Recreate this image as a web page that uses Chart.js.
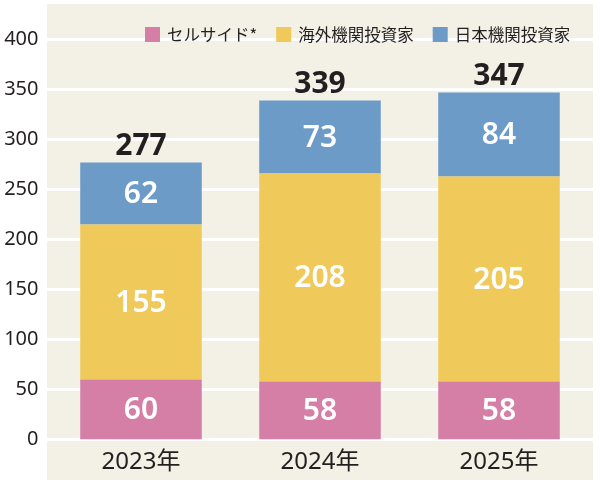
<!DOCTYPE html>
<html><head><meta charset="utf-8">
<script src="https://cdn.jsdelivr.net/npm/chart.js@4/dist/chart.umd.min.js"></script>
<style>html,body{margin:0;padding:0;background:#fff}</style>
</head><body>
<canvas id="c" width="600" height="486"></canvas>
<script>
const categories = ['2023年', '2024年', '2025年'];
const seriesNames = ['セルサイド*', '海外機関投資家', '日本機関投資家'];
const sellSide = [60, 58, 58];
const overseas = [155, 208, 205];
const domestic = [62, 73, 84];
const totals = [277, 339, 347];
const yTickValues = [0, 50, 100, 150, 200, 250, 300, 350, 400];

const colors = ['#d57fa6', '#efca5a', '#6c9bc7'];
const textColor = '#231f20';
const FONT = '"Noto Sans", "Noto Sans CJK JP", sans-serif';

const bgPlugin = {
  id: 'bg',
  beforeDraw(chart) {
    const ctx = chart.ctx;
    ctx.save();
    ctx.fillStyle = '#ffffff';
    ctx.fillRect(0, 0, chart.width, chart.height);
    ctx.fillStyle = '#f3f0e6';
    ctx.fillRect(47, 4, 546, 476);
    const y = chart.scales.y;
    ctx.strokeStyle = '#ffffff';
    ctx.lineWidth = 3;
    y.ticks.forEach(t => {
      const p = y.getPixelForValue(t.value);
      ctx.beginPath();
      ctx.moveTo(47, p);
      ctx.lineTo(593, p);
      ctx.stroke();
    });
    ctx.restore();
  }
};

const labelPlugin = {
  id: 'labels',
  afterDatasetsDraw(chart) {
    const ctx = chart.ctx;
    ctx.save();
    ctx.textAlign = 'center';
    ctx.textBaseline = 'middle';
    ctx.fillStyle = '#ffffff';
    ctx.font = '600 30px ' + FONT;
    chart.data.datasets.forEach((ds, di) => {
      const meta = chart.getDatasetMeta(di);
      meta.data.forEach((bar, i) => {
        ctx.fillText(String(ds.data[i]), bar.x, (bar.y + bar.base) / 2 + 1);
      });
    });
    const topMeta = chart.getDatasetMeta(chart.data.datasets.length - 1);
    ctx.fillStyle = textColor;
    ctx.font = 'bold 30px ' + FONT;
    topMeta.data.forEach((bar, i) => {
      ctx.fillText(String(totals[i]), bar.x, bar.y - 16);
    });
    ctx.restore();
  },
  afterDraw(chart) {
    const ctx = chart.ctx;
    ctx.save();
    ctx.font = '16.5px "Noto Sans CJK JP", ' + FONT;
    ctx.textAlign = 'left';
    ctx.textBaseline = 'middle';
    let x = 145;
    chart.data.datasets.forEach(ds => {
      ctx.fillStyle = ds.backgroundColor;
      ctx.fillRect(x, 27, 15, 15);
      x += 22;
      ctx.fillStyle = textColor;
      ctx.fillText(ds.label, x, 35);
      x += ctx.measureText(ds.label).width + 19;
    });
    ctx.restore();
  }
};

new Chart(document.getElementById('c'), {
  type: 'bar',
  data: {
    labels: categories,
    datasets: [
      { label: seriesNames[0], data: sellSide, backgroundColor: colors[0] },
      { label: seriesNames[1], data: overseas, backgroundColor: colors[1] },
      { label: seriesNames[2], data: domestic, backgroundColor: colors[2] }
    ]
  },
  options: {
    responsive: false,
    animation: false,
    devicePixelRatio: 1,
    barPercentage: 0.679,
    categoryPercentage: 1,
    layout: { padding: { top: 39.5, right: 11.5, bottom: 0, left: 0 } },
    plugins: { legend: { display: false }, tooltip: { enabled: false } },
    scales: {
      x: {
        stacked: true,
        grid: { display: false, drawTicks: false },
        border: { display: false },
        ticks: { font: { family: FONT, size: 24 }, color: textColor, padding: 8 },
        afterFit(s) { s.height = 46.5; }
      },
      y: {
        stacked: true,
        min: 0, max: 400,
        grid: { display: false, drawTicks: false },
        border: { display: false },
        afterBuildTicks(s) { s.ticks = yTickValues.map(v => ({ value: v })); },
        ticks: { font: { family: FONT, size: 20 }, color: textColor, padding: 13 },
        afterFit(s) { s.width = 51.5; }
      }
    }
  },
  plugins: [bgPlugin, labelPlugin]
});
</script>
</body></html>
